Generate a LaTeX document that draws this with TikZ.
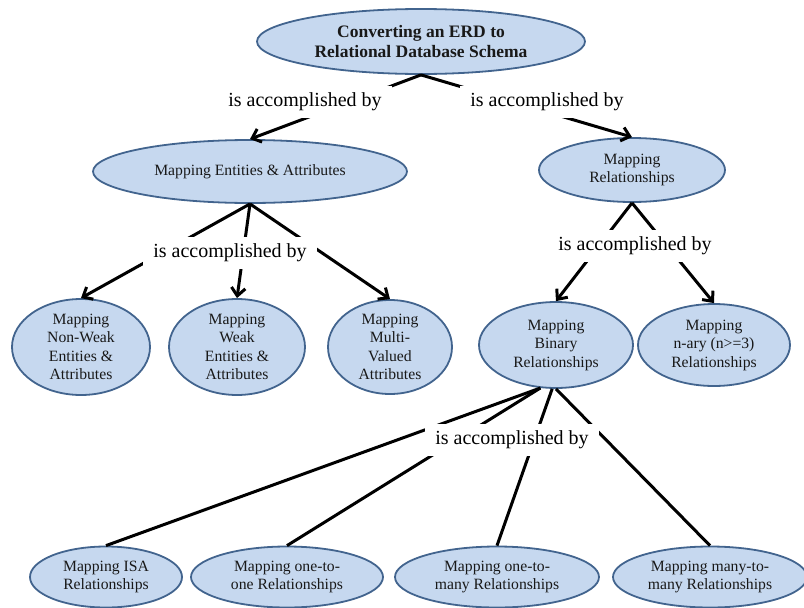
\documentclass[tikz,border=0pt]{standalone}
\usepackage{fontspec}
\setmainfont{Liberation Serif}
\usetikzlibrary{shapes.geometric,arrows.meta}
\definecolor{cfill}{RGB}{198,216,239}
\definecolor{cborder}{RGB}{66,100,142}
\begin{document}
\begin{tikzpicture}[x=1pt,y=-1pt,
  concept/.style={ellipse, draw=cborder, line width=1.8pt, fill=cfill,
    inner sep=-25pt, align=center, text=black!90,
    font=\fontsize{15.7}{18.5}\selectfont},
  esize/.style 2 args={minimum width=#1pt, minimum height=#2pt},
  linkphrase/.style={fill=white, inner xsep=10pt, inner ysep=7pt,
    font=\fontsize{20}{24}\selectfont},
  conn/.style={line width=3pt},
  arr/.style={conn, -{Straight Barb[length=8pt,width=14pt]}}
]
\useasboundingbox (0,0) rectangle (804,608);

% concepts
\node[concept, esize={328}{65}, font=\bfseries\fontsize{17.5}{20.5}\selectfont]
  (top) at (421,41.5) {Converting an ERD to\\Relational Database Schema};
\node[concept, esize={314}{63}] (ent) at (250,171.5) {Mapping Entities \& Attributes};
\node[concept, esize={186}{64}] (rel) at (632,170) {Mapping\\Relationships};
\node[concept, esize={138}{96}] (nw) at (81,347) {Mapping\\Non-Weak\\Entities \&\\Attributes};
\node[concept, esize={136}{96}] (wk) at (237,347) {Mapping\\Weak\\Entities \&\\Attributes};
\node[concept, esize={124}{94}] (mv) at (390,347) {Mapping\\Multi-\\Valued\\Attributes};
\node[concept, esize={154}{86}] (bin) at (556,345) {Mapping\\Binary\\Relationships};
\node[concept, esize={152}{82}] (nary) at (714,345) {Mapping\\n-ary (n>=3)\\Relationships};
\node[concept, esize={152}{61}] (isa) at (106,577) {Mapping ISA\\Relationships};
\node[concept, esize={192}{61}] (oo) at (287,577) {Mapping one-to-\\one Relationships};
\node[concept, esize={204}{61}] (om) at (497,577) {Mapping one-to-\\many Relationships};
\node[concept, esize={194}{61}] (mm) at (710,577) {Mapping many-to-\\many Relationships};

% connectors
\draw[arr] (top.south) -- (ent.north);
\draw[arr] (top.south) -- (rel.north);
\draw[arr] (ent.south) -- (nw.north);
\draw[arr] (ent.south) -- (wk.north);
\draw[arr] (ent.south) -- (mv.north);
\draw[arr] (rel.south) -- (bin.north);
\draw[arr] (rel.south) -- (nary.north);
\draw[conn] (bin.250) -- (isa.north);
\draw[conn] (bin.250) -- (oo.north);
\draw[conn] (bin.265) -- (om.north);
\draw[conn] (bin.270) -- (mm.north);

% linking phrases
\node[linkphrase] (l1) at (305,102) {is accomplished by};
\node[linkphrase] (l2) at (547,102) {is accomplished by};
\node[linkphrase] (l3) at (230,253) {is accomplished by};
\node[linkphrase] (l4) at (635,246) {is accomplished by};
\node[linkphrase] (l5) at (512,440) {is accomplished by};
\end{tikzpicture}
\end{document}
